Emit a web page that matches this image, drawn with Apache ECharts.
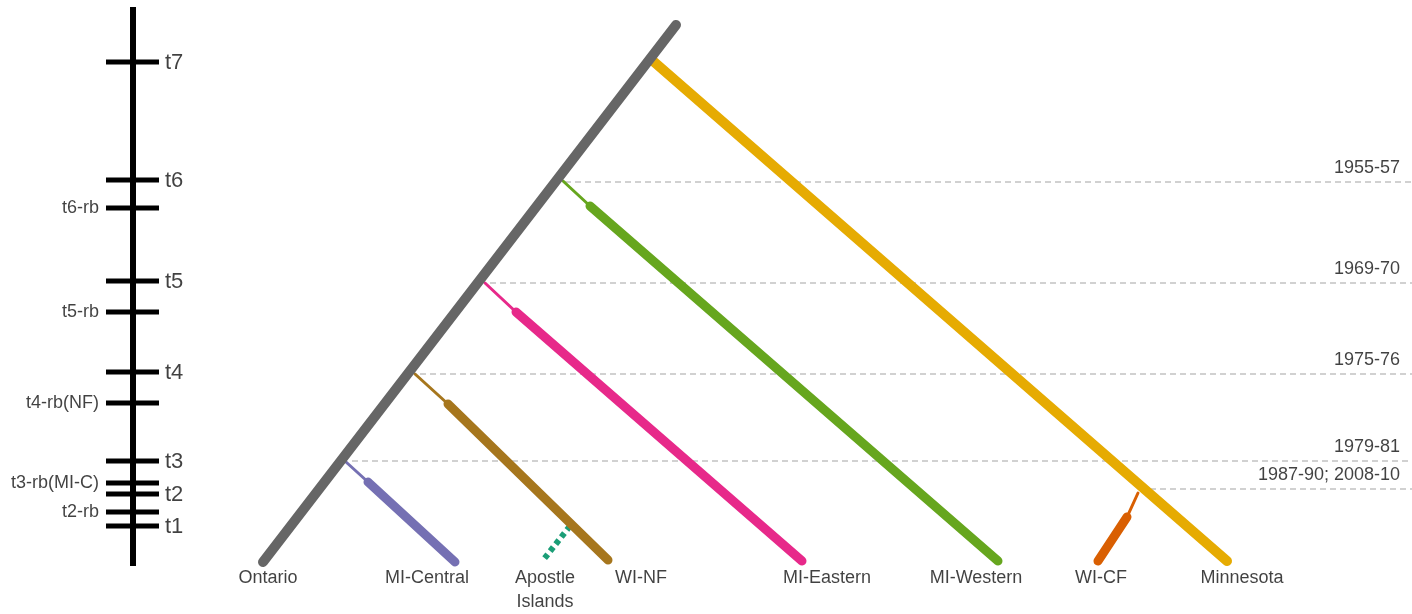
<!DOCTYPE html>
<html>
<head>
<meta charset="utf-8">
<title>Population divergence timeline</title>
<script src="https://cdn.jsdelivr.net/npm/echarts@6/dist/echarts.min.js"></script>
<style>
  html, body { margin: 0; padding: 0; background: #ffffff; }
  #chart { width: 1412px; height: 614px; }
</style>
</head>
<body>
<div id="chart"></div>
<script>
// ---- Time ruler (left) ----
const rulerX = 133;
const rulerSpan = [7, 566];
const rulerTickHalf = [106, 159];
const tickNames = ['t7', 't6', 't6-rb', 't5', 't5-rb', 't4', 't4-rb(NF)', 't3', 't3-rb(MI-C)', 't2', 't2-rb', 't1'];
const tickLevels = [62, 180, 208, 281, 312, 372, 403, 461, 483, 494, 512, 526];

// ---- Sampling periods (dashed reference lines) ----
const periods = ['1955-57', '1969-70', '1975-76', '1979-81', '1987-90; 2008-10'];
const periodLevels = [182, 283, 374, 461, 489];
const periodStartX = [565, 490, 420, 352, 1150];
const periodEndX = 1412;

// ---- Tree: trunk and population branches ----
const trunk = [[263, 562], [676, 25]];
const populations = ['Ontario', 'MI-Central', 'Apostle Islands', 'WI-NF', 'MI-Eastern', 'MI-Western', 'WI-CF', 'Minnesota'];
const populationLabelX = [268, 427, 545, 641, 827, 976, 1101, 1242];
const populationColors = ['#666666', '#7570b3', '#1b9e77', '#a6761d', '#e7298a', '#66a61e', '#d95f02', '#e6ab02'];

// branch = split point on the trunk, start of the thick lineage, tip
const branchMICentral = [[346, 462], [368, 482], [455, 562]];
const branchWINF      = [[415, 374], [448, 404], [608, 560]];
const branchMIEastern = [[485, 283], [516, 312], [802, 561]];
const branchMIWestern = [[563, 181], [590, 206], [998, 561]];
const branchWICF      = [[1138, 493], [1127, 517], [1098, 561]];
const branchMinnesota = [[653, 61], [1227, 561]];
const branchApostle   = [[570, 526], [544, 559]];

const textColor = '#111111';
const fontFamily = '"Liberation Sans", Arial, sans-serif';

const series = [];

function seg(points, color, width, opts) {
  opts = opts || {};
  series.push({
    type: 'line',
    data: points,
    showSymbol: false,
    silent: true,
    z: opts.z || 2,
    lineStyle: {
      color: color,
      width: width,
      type: opts.type || 'solid',
      cap: opts.cap || 'round',
      dashOffset: 0
    }
  });
}

function textSeries(items, style, z) {
  series.push({
    type: 'scatter',
    symbolSize: 0,
    silent: true,
    z: z || 5,
    data: items.map(function (it) {
      return { value: it.pos, name: it.text };
    }),
    label: Object.assign({
      show: true,
      position: 'inside',
      color: textColor,
      fontFamily: fontFamily,
      formatter: function (p) { return p.name; }
    }, style)
  });
}

// Dashed period lines sit underneath everything
periods.forEach(function (p, i) {
  seg([[periodStartX[i], periodLevels[i]], [periodEndX, periodLevels[i]]], '#c2c2c2', 1.5,
      { type: [6, 4], cap: 'butt', z: 1 });
});

// Ruler spine and ticks
seg([[rulerX, rulerSpan[0]], [rulerX, rulerSpan[1]]], '#000000', 6, { cap: 'butt' });
tickLevels.forEach(function (y) {
  seg([[rulerTickHalf[0], y], [rulerTickHalf[1], y]], '#000000', 5, { cap: 'butt' });
});

// Population branches: thin segment before the thick lineage
function branch(b, color) {
  if (b.length === 3) {
    seg([b[0], b[1]], color, 3, { z: 2 });
    seg([b[1], b[2]], color, 9, { z: 3 });
  } else {
    seg(b, color, 10, { z: 3 });
  }
}
branch(branchMICentral, populationColors[1]);
branch(branchWINF, populationColors[3]);
branch(branchMIEastern, populationColors[4]);
branch(branchMIWestern, populationColors[5]);
branch(branchWICF, populationColors[6]);
branch(branchMinnesota, populationColors[7]);
seg(branchApostle, populationColors[2], 6, { type: [5, 4], cap: 'butt', z: 2 });

// Trunk on top
seg(trunk, populationColors[0], 10, { z: 4 });

// Ruler labels: main periods to the right, rb periods to the left
const mainTicks = [], rbTicks = [];
tickNames.forEach(function (n, i) {
  if (n.indexOf('-rb') >= 0) rbTicks.push({ pos: [99, tickLevels[i]], text: n });
  else mainTicks.push({ pos: [165, tickLevels[i] + 1], text: n });
});
textSeries(mainTicks, { fontSize: 22, align: 'left', verticalAlign: 'middle' });
textSeries(rbTicks, { fontSize: 18, align: 'right', verticalAlign: 'middle' });

// Period labels, right aligned above each dashed line
textSeries(periods.map(function (p, i) {
  return { pos: [1400, periodLevels[i] - 5], text: p };
}), { fontSize: 18, align: 'right', verticalAlign: 'bottom' });

// Population names below the tips
textSeries(populations.map(function (p, i) {
  return { pos: [populationLabelX[i], 566], text: p.replace(' ', '\n') };
}), { fontSize: 18, align: 'center', verticalAlign: 'top', lineHeight: 24 });

const chart = echarts.init(document.getElementById('chart'), null, { renderer: 'canvas' });
chart.setOption({
  animation: false,
  backgroundColor: '#ffffff',
  grid: { left: 0, right: 0, top: 0, bottom: 0, containLabel: false },
  xAxis: { type: 'value', min: 0, max: 1412, show: false },
  yAxis: { type: 'value', min: 0, max: 614, inverse: true, show: false },
  series: series
});
</script>
</body>
</html>
